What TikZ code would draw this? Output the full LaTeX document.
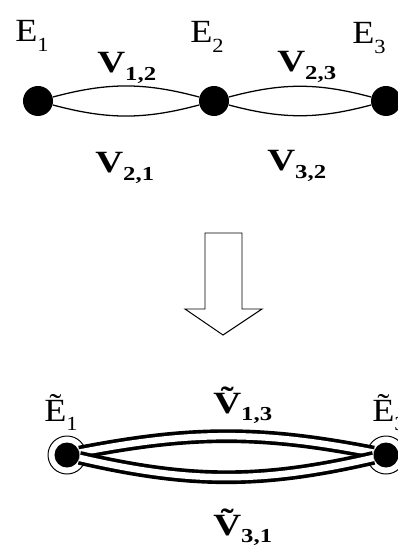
\documentclass[tikz,border=0pt]{standalone}
\usepackage{fontspec}
\setmainfont{Liberation Serif}
\usetikzlibrary{positioning}
% label with a lowered index, stretched a little in width
\newcommand{\elab}[2]{\scalebox{1.12}[1]{#1\raisebox{-0.28em}{\scalebox{0.62}{#2}}}}
\newcommand{\vlab}[2]{\scalebox{1.25}[1]{#1\raisebox{-0.23em}{\scalebox{0.64}{#2}}}}

\begin{document}
\begin{tikzpicture}[x=0.025cm, y=-0.025cm,
    dot/.style={circle, fill=black, inner sep=0, minimum size=0.75cm},
    smalldot/.style={circle, fill=black, inner sep=0, minimum size=0.625cm},
    ring/.style={circle, draw, line width=0.7pt, inner sep=0, minimum size=0.95cm},
    elbl/.style={anchor=base west, inner sep=0, font=\fontsize{23}{26}\selectfont},
    vlbl/.style={anchor=base west, inner sep=0, font=\fontsize{22}{25}\selectfont\bfseries},
    thinarc/.style={line width=0.9pt},
    pairarc/.style={line width=2.6pt, double=white, double distance=4.6pt}]
    \useasboundingbox (0,0) rectangle (398,557);

    % upper graph
    \node[dot] (e1) at (38,101) {};
    \node[dot] (e2) at (214,101) {};
    \node[dot] (e3) at (386,101) {};
    \draw[thinarc] (e1) to[bend left=15] (e2);
    \draw[thinarc] (e1) to[bend right=15] (e2);
    \draw[thinarc] (e2) to[bend left=15] (e3);
    \draw[thinarc] (e2) to[bend right=15] (e3);
    \node[elbl] (le1) at (15,42) {\elab{E}{1}};
    \node[elbl] (le2) at (190,43) {\elab{E}{2}};
    \node[elbl] (le3) at (352,44) {\elab{E}{3}};
    \node[vlbl] (v12) at (97,73) {\vlab{V}{1,2}};
    \node[vlbl] (v23) at (277,72) {\vlab{V}{2,3}};
    \node[vlbl] (v21) at (95,173) {\vlab{V}{2,1}};
    \node[vlbl] (v32) at (267,171) {\vlab{V}{3,2}};

    % big arrow
    \draw[line width=0.7pt] (205,233) -- (242,233) -- (242,309) -- (262,309)
        -- (223,335) -- (185,309) -- (205,309) -- cycle;

    % reduced graph
    \node[ring] (r1) at (67,455) {};
    \node[ring] (r3) at (386,455) {};
    \node[smalldot] (et1) at (67,455) {};
    \node[smalldot] (et3) at (386,455) {};
    \draw[pairarc] (et1) to[bend left=11] (et3);
    \draw[pairarc] (et1) to[bend right=13] (et3);
    \node[elbl] (let1) at (44,421) {\elab{\~E}{1}};
    \node[elbl] (let3) at (372,421) {\elab{\~E}{3}};
    \node[vlbl] (vt13) at (213,413) {\vlab{\~V}{1,3}};
    \node[vlbl] (vt31) at (213,535) {\vlab{\~V}{3,1}};
\end{tikzpicture}
\end{document}
